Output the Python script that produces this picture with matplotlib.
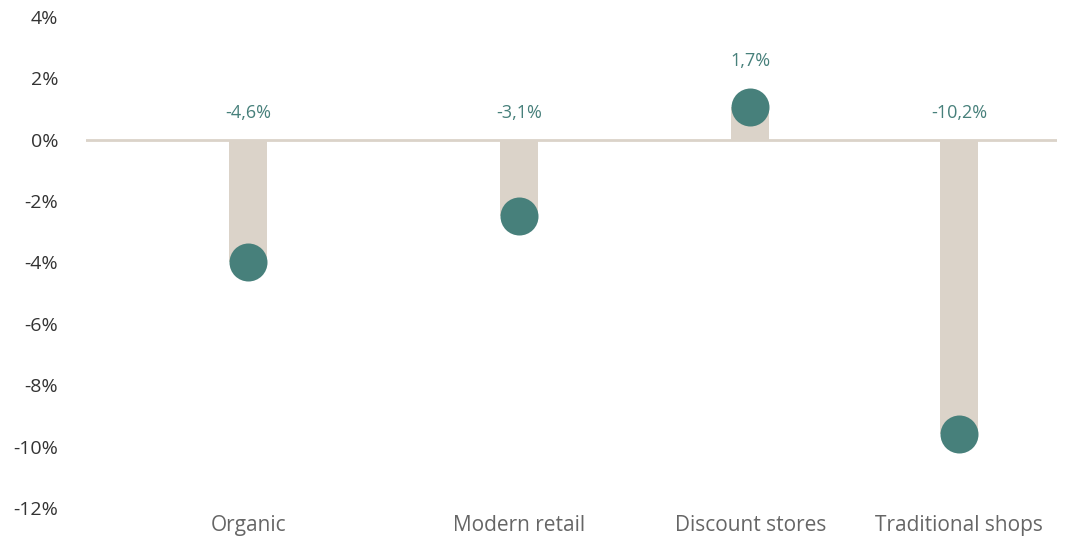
import matplotlib
matplotlib.use("Agg")
import matplotlib.pyplot as plt

plt.rcParams['font.family'] = ['Open Sans', 'DejaVu Sans']

categories = ['Organic', 'Modern retail', 'Discount stores', 'Traditional shops']
values = [-4.6, -3.1, 1.7, -10.2]
labels = ['-4,6%', '-3,1%', '1,7%', '-10,2%']
yticks = [4, 2, 0, -2, -4, -6, -8, -10, -12]

# horizontal slot of each category inside the plot area
xpos = [0.167, 0.446, 0.684, 0.899]

bar_col = '#dbd3c9'
dot_col = '#47807b'

fig = plt.figure(figsize=(10.7, 5.39), dpi=100)
ax = fig.add_axes([0.0804, 0.0575, 0.9075, 0.911])
ax.set_xlim(0, 1)
ax.set_ylim(-12, 4)

r = 19  # dot radius in pixels
to_disp = ax.transData
to_data = ax.transData.inverted()

ax.axhline(0, color=bar_col, lw=2, zorder=1)
for x, v, lab in zip(xpos, values, labels):
    # the dot sits inside the bar end, its outer edge on the value
    sign = 1 if v < 0 else -1
    px, py = to_disp.transform((x, v))
    cy = to_data.transform((px, py + sign * r))[1]
    ax.bar([x], [cy], width=0.039, color=bar_col, zorder=2)
    ax.plot([x], [cy], 'o', ms=2 * r * 72 / 100, color=dot_col, mec='none', zorder=3)
    ax.annotate(lab, (x, max(v, 0)), xytext=(0, 27 * 72 / 100),
                textcoords='offset points', ha='center', va='center',
                fontsize=13, color=dot_col)

ax.set_yticks(yticks)
ax.set_yticklabels([f'{t}%' for t in yticks])
ax.set_xticks(xpos)
ax.set_xticklabels(categories)
ax.tick_params(axis='y', length=0, pad=20, labelsize=14, labelcolor='#333333')
ax.tick_params(axis='x', length=0, pad=5, labelsize=15, labelcolor='#666666')
for s in ax.spines.values():
    s.set_visible(False)

fig.savefig('out.png', dpi=100)
